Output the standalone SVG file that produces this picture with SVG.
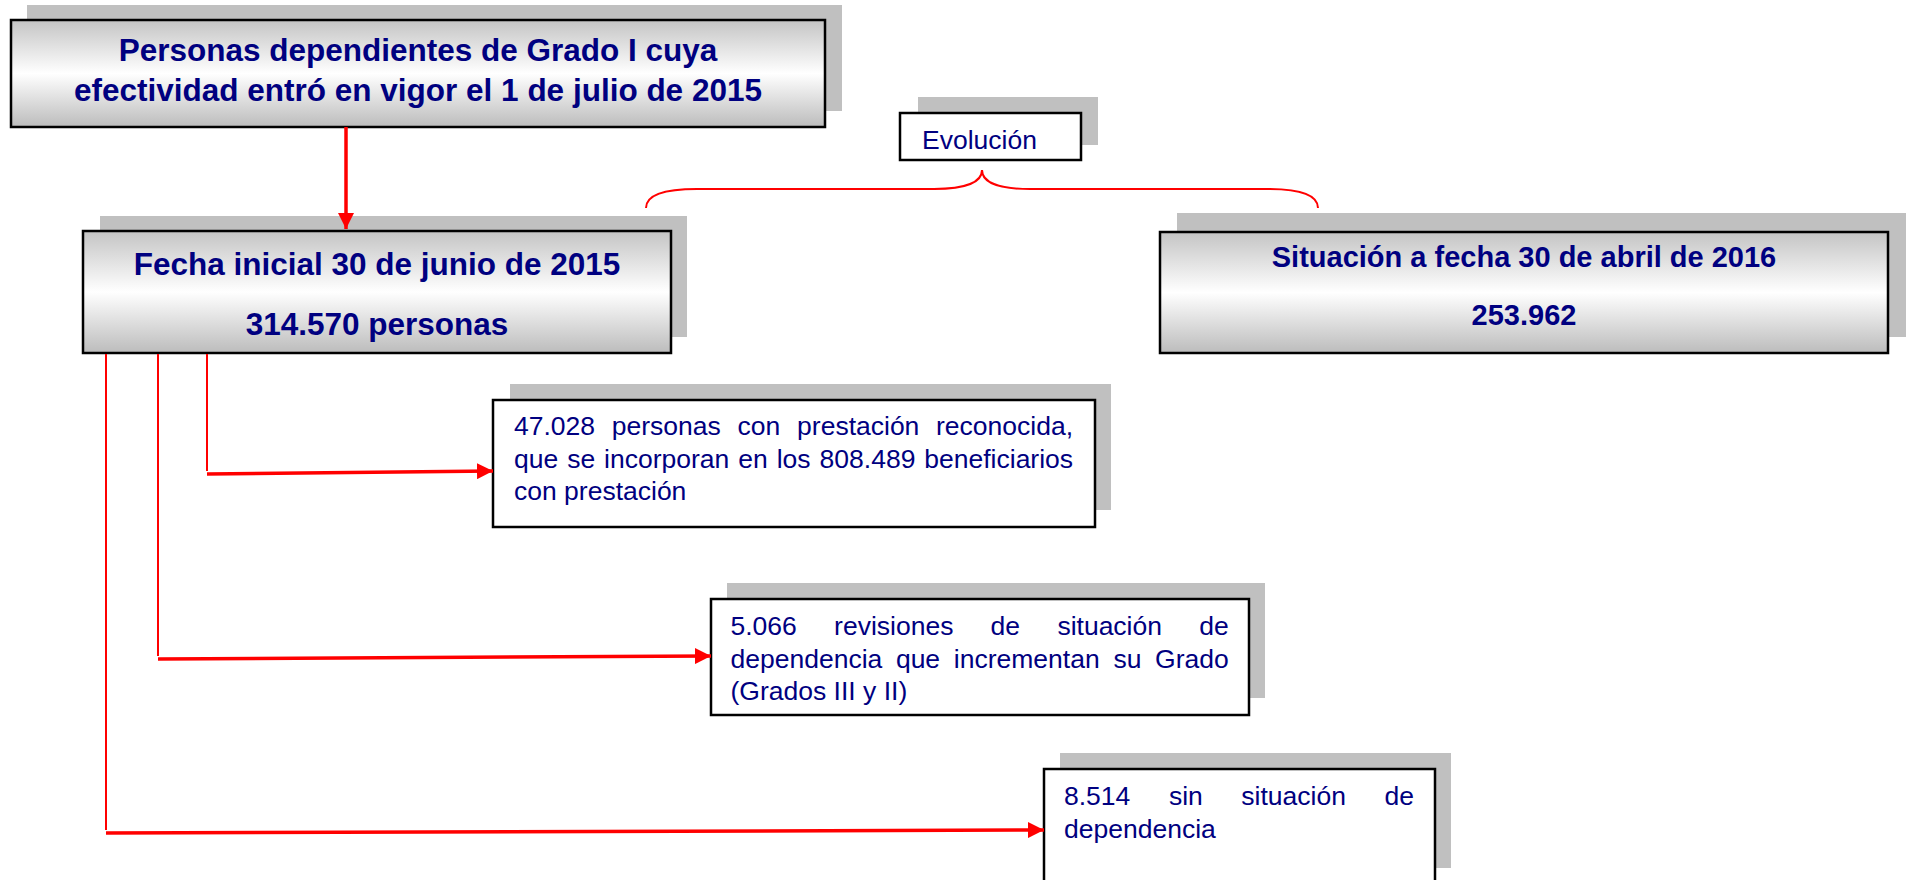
<svg xmlns="http://www.w3.org/2000/svg" width="1906" height="880" viewBox="0 0 1906 880">
  <defs>
    <linearGradient id="boxGrad" x1="0" y1="0" x2="0" y2="1">
      <stop offset="0" stop-color="#c4c4c4"/>
      <stop offset="0.5" stop-color="#ffffff"/>
      <stop offset="1" stop-color="#bcbcbc"/>
    </linearGradient>
    <marker id="arrow" markerUnits="userSpaceOnUse" markerWidth="17" markerHeight="16" refX="16" refY="8" orient="auto" viewBox="0 0 17 16">
      <path d="M0,0 L16,8 L0,16 Z" fill="#ff0000"/>
    </marker>
  </defs>
  <style>
    .shadow { fill: #c0c0c0; }
    .gbox { fill: url(#boxGrad); stroke: #000; stroke-width: 2.5; }
    .wbox { fill: #ffffff; stroke: #000; stroke-width: 2.5; }
    .title { font-family: "Liberation Sans", Arial, sans-serif; font-weight: bold; fill: #000080; text-anchor: middle; }
    .body { font-family: "Liberation Sans", Arial, sans-serif; font-size: 26.5px; fill: #000080; }
    .thin { stroke: #ff0000; stroke-width: 2; fill: none; }
    .thick { stroke: #ff0000; stroke-width: 3.5; fill: none; }
    .brace { stroke: #ff0000; stroke-width: 2; fill: none; }
  </style>

  <rect width="1906" height="880" fill="#ffffff"/>

  <g id="node-top">
    <rect class="shadow" x="27" y="5" width="815" height="106"/>
    <rect class="gbox" x="11" y="20" width="814" height="107"/>
    <text class="title" font-size="31.5" x="418" y="61">Personas dependientes de Grado I cuya</text>
    <text class="title" font-size="31.5" x="418" y="101">efectividad entró en vigor el 1 de julio de 2015</text>
  </g>

  <g id="node-evolucion">
    <rect class="shadow" x="918" y="97" width="180" height="48"/>
    <rect class="wbox" x="900" y="113" width="181" height="47"/>
    <text class="body" x="922" y="149">Evolución</text>
  </g>

  <g id="node-fecha">
    <rect class="shadow" x="100" y="216" width="587" height="121"/>
    <rect class="gbox" x="83" y="231" width="588" height="122"/>
    <text class="title" font-size="31.5" x="377" y="275">Fecha inicial 30 de junio de 2015</text>
    <text class="title" font-size="31.5" x="377" y="335">314.570 personas</text>
  </g>

  <g id="node-situacion">
    <rect class="shadow" x="1177" y="213" width="729" height="124"/>
    <rect class="gbox" x="1160" y="232" width="728" height="121"/>
    <text class="title" font-size="29" x="1524" y="267">Situación a fecha 30 de abril de 2016</text>
    <text class="title" font-size="29" x="1524" y="325">253.962</text>
  </g>

  <g id="node-prestacion">
    <rect class="shadow" x="510" y="384" width="601" height="126"/>
    <rect class="wbox" x="493" y="400" width="602" height="127"/>
    <text class="body" y="435">
      <tspan x="514">47.028</tspan><tspan x="611.8">personas</tspan><tspan x="737.6">con</tspan><tspan x="797.1">prestación</tspan><tspan x="936">reconocida,</tspan>
    </text>
    <text class="body" y="467.5">
      <tspan x="514">que</tspan><tspan x="567.2">se</tspan><tspan x="604.1">incorporan</tspan><tspan x="738.3">en</tspan><tspan x="776.7">los</tspan><tspan x="819.6">808.489</tspan><tspan x="924.3">beneficiarios</tspan>
    </text>
    <text class="body" x="514" y="499.5">con prestación</text>
  </g>

  <g id="node-revisiones">
    <rect class="shadow" x="727" y="583" width="538" height="115"/>
    <rect class="wbox" x="711" y="599" width="538" height="116"/>
    <text class="body" y="635">
      <tspan x="730.5">5.066</tspan><tspan x="834.1">revisiones</tspan><tspan x="990.6">de</tspan><tspan x="1057.4">situación</tspan><tspan x="1199.2">de</tspan>
    </text>
    <text class="body" y="667.5">
      <tspan x="730.5">dependencia</tspan><tspan x="895.9">que</tspan><tspan x="953.8">incrementan</tspan><tspan x="1113.4">su</tspan><tspan x="1155.1">Grado</tspan>
    </text>
    <text class="body" x="730.5" y="699.5">(Grados III y II)</text>
  </g>

  <g id="node-sin">
    <rect class="shadow" x="1060" y="753" width="391" height="115"/>
    <rect class="wbox" x="1044" y="769" width="391" height="115"/>
    <text class="body" y="805">
      <tspan x="1064">8.514</tspan><tspan x="1168.9">sin</tspan><tspan x="1241.3">situación</tspan><tspan x="1384.5">de</tspan>
    </text>
    <text class="body" x="1064" y="838">dependencia</text>
  </g>

  <g id="connectors">
    <line class="thick" x1="346" y1="127" x2="346" y2="229" stroke-width="2.7" marker-end="url(#arrow)"/>
    <path class="brace" d="M646,208 C646,196 662,189 697,189 L934,189 C966,189 982,182 982,170 C982,182 998,189 1030,189 L1268,189 C1302,189 1318,196 1318,208"/>
    <line class="thin" x1="207" y1="354" x2="207" y2="471"/>
    <line class="thick" x1="207" y1="474" x2="493" y2="471" marker-end="url(#arrow)"/>
    <line class="thin" x1="158" y1="354" x2="158" y2="656"/>
    <line class="thick" x1="158" y1="659" x2="711" y2="656" marker-end="url(#arrow)"/>
    <line class="thin" x1="106" y1="354" x2="106" y2="830"/>
    <line class="thick" x1="106" y1="833" x2="1044" y2="830" marker-end="url(#arrow)"/>
  </g>
</svg>
